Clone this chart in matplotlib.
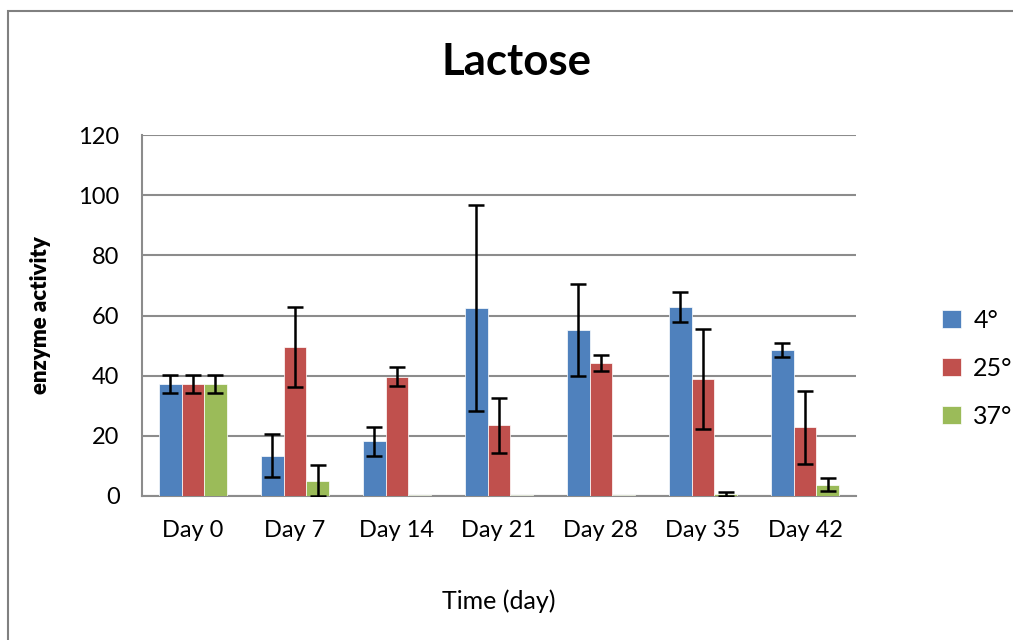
import numpy as np
import matplotlib.pyplot as plt
from matplotlib.patches import Rectangle

days = ["Day 0", "Day 7", "Day 14", "Day 21", "Day 28", "Day 35", "Day 42"]
series = ["4°", "25°", "37°"]

vals_4 = [37.3, 13.4, 18.2, 62.6, 55.3, 62.8, 48.5]
vals_25 = [37.3, 49.5, 39.7, 23.5, 44.2, 38.9, 22.8]
vals_37 = [37.3, 5.1, 0.2, 0.2, 0.2, 0.6, 3.8]

# nan = no error bar drawn
err_4 = [3.0, 7.1, 4.8, 34.3, 15.3, 5.1, 2.3]
err_25 = [3.0, 13.3, 3.1, 9.2, 2.6, 16.5, 12.2]
err_37 = [3.0, 5.2, np.nan, np.nan, np.nan, 0.6, 2.1]

colors = ["#4F81BD", "#C0504D", "#9BBB59"]

plt.rcParams['font.family'] = ['Lato', 'DejaVu Sans']

fig = plt.figure(figsize=(10.13, 6.4), dpi=100)
ax = fig.add_axes([0.140, 0.225, 0.705, 0.564])

x = np.arange(len(days))
w = 0.222
for i, (v, e) in enumerate(zip([vals_4, vals_25, vals_37], [err_4, err_25, err_37])):
    ax.bar(x + (i - 1) * w, v, width=w, color=colors[i], label=series[i],
           edgecolor="white", linewidth=0.5, zorder=3,
           yerr=e, error_kw=dict(ecolor="black", elinewidth=1.8, capsize=6, capthick=1.8, zorder=4))

ax.set_ylim(0, 120)
ax.set_yticks(range(0, 121, 20))
ax.set_xlim(-0.5, len(days) - 0.5)
ax.set_xticks(x)
ax.set_xticklabels(days)
ax.tick_params(axis='y', labelsize=17, length=0, pad=16)
ax.tick_params(axis='x', labelsize=17, length=0, pad=17)
ax.yaxis.grid(True, color="#8C8C8C", linewidth=1.5, zorder=0)
ax.set_axisbelow(True)
for s in ["top", "right"]:
    ax.spines[s].set_visible(False)
for s in ["left", "bottom"]:
    ax.spines[s].set_color("#8C8C8C")
    ax.spines[s].set_linewidth(1.5)

fig.text(0.51, 0.903, "Lactose", fontsize=31.5, fontweight="bold", ha="center", va="center")
ax.set_ylabel("enzyme activity", fontsize=16, fontweight="heavy", labelpad=20)
ax.set_xlabel("Time (day)", fontsize=18, labelpad=35)

ax.legend(loc="center left", bbox_to_anchor=(0.93, 0.425), bbox_transform=fig.transFigure,
          frameon=False, fontsize=18, handlelength=0.75, handleheight=0.75,
          labelspacing=1.0, handletextpad=0.5, borderaxespad=0, borderpad=0)

# chart-area border (cut off at right and bottom like the screenshot)
fig.patches.append(Rectangle((0.0075, -0.1), 1.2, 1.083, transform=fig.transFigure,
                             fill=False, edgecolor="#808080", linewidth=1.5))

fig.savefig("out.png", dpi=100)
